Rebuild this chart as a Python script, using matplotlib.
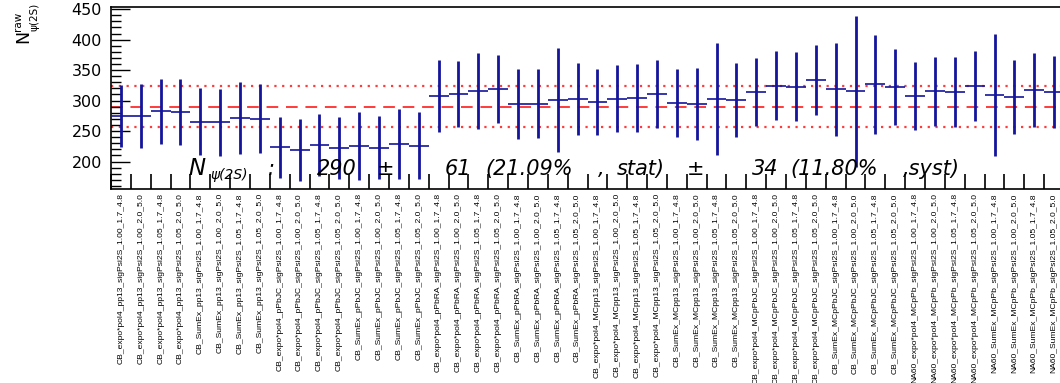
import matplotlib
matplotlib.use("Agg")
import matplotlib.pyplot as plt
from matplotlib import font_manager
import numpy as np

labels = [
    "CB_expo*pol4_pp13_sigPsi2S_1.00_1.7_4.8", "CB_expo*pol4_pp13_sigPsi2S_1.00_2.0_5.0",
    "CB_expo*pol4_pp13_sigPsi2S_1.05_1.7_4.8", "CB_expo*pol4_pp13_sigPsi2S_1.05_2.0_5.0",
    "CB_SumEx_pp13_sigPsi2S_1.00_1.7_4.8", "CB_SumEx_pp13_sigPsi2S_1.00_2.0_5.0",
    "CB_SumEx_pp13_sigPsi2S_1.05_1.7_4.8", "CB_SumEx_pp13_sigPsi2S_1.05_2.0_5.0",
    "CB_expo*pol4_pPbJC_sigPsi2S_1.00_1.7_4.8", "CB_expo*pol4_pPbJC_sigPsi2S_1.00_2.0_5.0",
    "CB_expo*pol4_pPbJC_sigPsi2S_1.05_1.7_4.8", "CB_expo*pol4_pPbJC_sigPsi2S_1.05_2.0_5.0",
    "CB_SumEx_pPbJC_sigPsi2S_1.00_1.7_4.8", "CB_SumEx_pPbJC_sigPsi2S_1.00_2.0_5.0",
    "CB_SumEx_pPbJC_sigPsi2S_1.05_1.7_4.8", "CB_SumEx_pPbJC_sigPsi2S_1.05_2.0_5.0",
    "CB_expo*pol4_pPbRA_sigPsi2S_1.00_1.7_4.8", "CB_expo*pol4_pPbRA_sigPsi2S_1.00_2.0_5.0",
    "CB_expo*pol4_pPbRA_sigPsi2S_1.05_1.7_4.8", "CB_expo*pol4_pPbRA_sigPsi2S_1.05_2.0_5.0",
    "CB_SumEx_pPbRA_sigPsi2S_1.00_1.7_4.8", "CB_SumEx_pPbRA_sigPsi2S_1.00_2.0_5.0",
    "CB_SumEx_pPbRA_sigPsi2S_1.05_1.7_4.8", "CB_SumEx_pPbRA_sigPsi2S_1.05_2.0_5.0",
    "CB_expo*pol4_MCpp13_sigPsi2S_1.00_1.7_4.8", "CB_expo*pol4_MCpp13_sigPsi2S_1.00_2.0_5.0",
    "CB_expo*pol4_MCpp13_sigPsi2S_1.05_1.7_4.8", "CB_expo*pol4_MCpp13_sigPsi2S_1.05_2.0_5.0",
    "CB_SumEx_MCpp13_sigPsi2S_1.00_1.7_4.8", "CB_SumEx_MCpp13_sigPsi2S_1.00_2.0_5.0",
    "CB_SumEx_MCpp13_sigPsi2S_1.05_1.7_4.8", "CB_SumEx_MCpp13_sigPsi2S_1.05_2.0_5.0",
    "CB_expo*pol4_MCpPbJC_sigPsi2S_1.00_1.7_4.8", "CB_expo*pol4_MCpPbJC_sigPsi2S_1.00_2.0_5.0",
    "CB_expo*pol4_MCpPbJC_sigPsi2S_1.05_1.7_4.8", "CB_expo*pol4_MCpPbJC_sigPsi2S_1.05_2.0_5.0",
    "CB_SumEx_MCpPbJC_sigPsi2S_1.00_1.7_4.8", "CB_SumEx_MCpPbJC_sigPsi2S_1.00_2.0_5.0",
    "CB_SumEx_MCpPbJC_sigPsi2S_1.05_1.7_4.8", "CB_SumEx_MCpPbJC_sigPsi2S_1.05_2.0_5.0",
    "NA60_expo*pol4_MCpPb_sigPsi2S_1.00_1.7_4.8", "NA60_expo*pol4_MCpPb_sigPsi2S_1.00_2.0_5.0",
    "NA60_expo*pol4_MCpPb_sigPsi2S_1.05_1.7_4.8", "NA60_expo*pol4_MCpPb_sigPsi2S_1.05_2.0_5.0",
    "NA60_SumEx_MCpPb_sigPsi2S_1.00_1.7_4.8", "NA60_SumEx_MCpPb_sigPsi2S_1.00_2.0_5.0",
    "NA60_SumEx_MCpPb_sigPsi2S_1.05_1.7_4.8", "NA60_SumEx_MCpPb_sigPsi2S_1.05_2.0_5.0",
]

yields = [274.9, 274.4, 282.6, 281.0, 265.6, 264.6, 271.6, 270.0,
          223.6, 218.7, 227.4, 222.0, 225.0, 223.0, 228.5, 226.2,
          307.2, 310.5, 315.9, 319.2, 294.1, 295.1, 301.6, 302.3,
          297.9, 302.8, 304.4, 310.5, 295.7, 294.0, 302.8, 301.6,
          314.3, 324.6, 323.0, 333.4, 318.7, 315.4, 326.9, 322.5,
          307.2, 315.4, 314.3, 324.1, 309.3, 306.1, 317.5, 314.3]
errors = [51.4, 52.2, 53.6, 54.0, 55.4, 54.9, 58.8, 56.6,
          50.0, 50.3, 50.9, 51.2, 55.5, 52.2, 57.6, 54.4,
          59.4, 54.5, 62.4, 55.8, 57.0, 57.2, 85.3, 59.0,
          54.7, 55.0, 55.8, 56.0, 55.8, 58.7, 91.5, 60.7,
          56.0, 56.0, 56.8, 57.7, 76.5, 123.5, 80.9, 62.9,
          55.8, 56.3, 57.3, 57.7, 99.4, 60.4, 60.9, 58.8]

mean_val = 290
syst_val = 34

W, H = 1060, 383
fig = plt.figure(figsize=(W / 100, H / 100), dpi=100)
fx = lambda x: x / W
fy = lambda y: 1 - y / H

left_px, right_px, top_px, bot_px = 111, 1064, 7, 189
ax = fig.add_axes([fx(left_px), fy(bot_px), (right_px - left_px) / W, (bot_px - top_px) / H])

n = len(yields)
x = np.arange(n) + 0.5
y = np.array(yields)
e = np.array(errors)

blue = "#14149c"
red = "#ff3b3b"

ax.axhline(mean_val, color=red, ls=(0, (6, 4)), lw=1.4, zorder=1)
ax.axhline(mean_val + syst_val, color=red, ls=(0, (1, 2.5)), lw=1.6, zorder=1)
ax.axhline(mean_val - syst_val, color=red, ls=(0, (1, 2.5)), lw=1.6, zorder=1)

ax.vlines(x, y - e, y + e, color=blue, lw=2.0, zorder=3)
ax.hlines(y, x - 0.5, x + 0.5, color=blue, lw=1.2, zorder=3)

ax.set_xlim(0, n)
ax.set_ylim(155, 453.5)

# y ticks
ax.set_yticks([200, 250, 300, 350, 400, 450])
ax.set_yticks(np.arange(160, 451, 10), minor=True)
ax.tick_params(axis="y", which="major", direction="in", length=14, width=1, pad=6.5,
               labelsize=11.5, right=False)
ax.tick_params(axis="y", which="minor", direction="in", length=7, width=1, right=False)

# x ticks at bin edges, labels at centres
ax.set_xticks(np.arange(0, n + 1))
ax.tick_params(axis="x", which="major", direction="in", length=11, width=1.2,
               labelbottom=False, top=False)

lab_family, lab_size, lab_stretch = "Liberation Sans", 6.1, "normal"
for f in font_manager.fontManager.ttflist:
    if f.name == "Liberation Sans Narrow":
        lab_family, lab_size, lab_stretch = "Liberation Sans Narrow", 7.4, "normal"
        break
    if f.name == "Liberation Sans" and str(f.stretch) in ("condensed", "semi-condensed", "75", "87.5"):
        lab_family, lab_size, lab_stretch = "Liberation Sans", 7.4, "condensed"

ax.set_xticks(x, labels, minor=True)
ax.tick_params(axis="x", which="minor", length=0, pad=3, top=False)
for t in ax.get_xticklabels(minor=True):
    t.set_rotation(90)
    t.set_fontfamily(lab_family)
    t.set_fontstretch(lab_stretch)
    t.set_fontsize(lab_size)
    t.set_ha("center")
    t.set_va("top")

for t in ax.get_yticklabels():
    t.set_fontfamily("DejaVu Sans")

for s in ax.spines.values():
    s.set_linewidth(1.2)

# y axis title  N^{raw}_{psi(2S)}
yt = dict(rotation=90, ha="center", va="center", family="DejaVu Sans")
fig.text(fx(23), fy(36.5), "N", fontsize=12.5, **yt)
fig.text(fx(18), fy(21), "raw", fontsize=7.5, **yt)
fig.text(fx(34), fy(17), "\u03c8(2S)", fontsize=7.5, **yt)

# summary text pieces
base = 175
tstyle = dict(family="DejaVu Sans", style="oblique", fontsize=15, va="baseline", ha="left", zorder=5)
fig.text(fx(188), fy(base), "N", **{**tstyle, "fontsize": 16.5})
fig.text(fx(210), fy(base + 4), "\u03c8(2S)", **{**tstyle, "fontsize": 10})
fig.text(fx(268), fy(base), ":", **tstyle)
pieces = [
    (317, f"{mean_val}"),
    (377, "\u00b1"),
    (445, "61"),
    (485, "(21.09%"),
    (598, ","),
    (617, "stat)"),
    (687, "\u00b1"),
    (752, f"{syst_val}"),
    (790, "(11.80%"),
    (903, ",syst)"),
]
for px, s in pieces:
    fig.text(fx(px), fy(base), s, **tstyle)

fig.savefig("out.png", dpi=100)
